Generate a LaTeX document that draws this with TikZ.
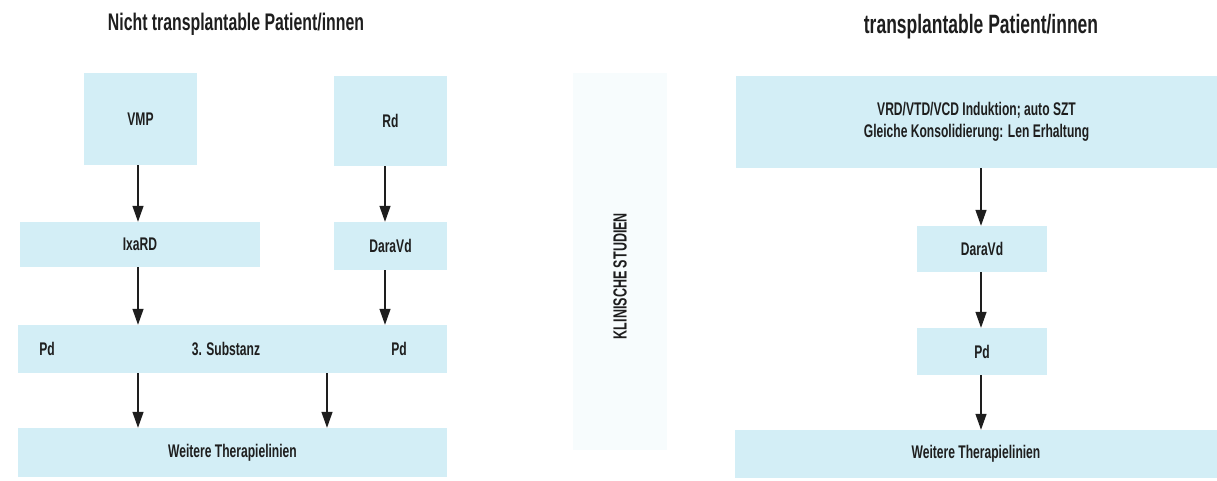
\documentclass[tikz,border=0pt]{standalone}
\usepackage{fontspec}
\setmainfont{Liberation Sans}[BoldFont={* Bold},FakeStretch=0.66]
\usetikzlibrary{arrows.meta}
\definecolor{boxc}{RGB}{211,238,246}
\definecolor{panelc}{RGB}{247,252,253}
\definecolor{txt}{RGB}{30,30,30}
\tikzset{
  box/.style={fill=boxc, draw=none, inner sep=0pt, text=txt, font=\bfseries\fontsize{18.3}{22}\selectfont, align=center},
  lbl/.style={inner sep=0pt, text=txt, font=\bfseries\fontsize{18.3}{22}\selectfont},
  ttl/.style={inner sep=0pt, text=txt, font=\bfseries\fontsize{24}{28}\selectfont},
  arr/.style={draw=txt, line width=1.3pt, -{Triangle[length=16pt,width=11pt]}}
}
\begin{document}
\begin{tikzpicture}[x=1pt,y=-1pt]
\useasboundingbox (0,0) rectangle (1217,480);
% titles
\node[ttl] (t1) at (236,24) {Nicht transplantable Patient/innen};
\node[ttl, font=\bfseries\fontsize{26.5}{30}\selectfont] (t2) at (981,27) {transplantable Patient/innen};
% clinical studies panel
\node[fill=panelc, inner sep=0pt, minimum width=94pt, minimum height=377pt] (panel) at (620,261.5) {};
\node[lbl, rotate=90, font=\bfseries\fontsize{19}{22}\selectfont] (ks) at (620,276) {KLINISCHE STUDIEN};
% left column
\node[box, minimum width=113pt, minimum height=92pt] (vmp) at (140.5,119) {VMP};
\node[box, minimum width=113pt, minimum height=90pt] (rd) at (390.5,121) {Rd};
\node[box, minimum width=240pt, minimum height=45pt] (ixa) at (140,244.5) {IxaRD};
\node[box, minimum width=113pt, minimum height=48pt] (darl) at (390.5,246) {DaraVd};
\node[box, minimum width=429pt, minimum height=48pt] (bar) at (232.5,349) {};
\node[lbl] (pd1) at (47,349) {Pd};
\node[lbl] (sub) at (226,349) {3. Substanz};
\node[lbl] (pd2) at (399,349) {Pd};
\node[box, minimum width=429pt, minimum height=49pt] (wl) at (232.5,452.5) {Weitere Therapielinien};
% right column
\node[box, minimum width=481pt, minimum height=92pt] (top) at (976.5,122) {VRD/VTD/VCD Induktion; auto SZT\\Gleiche Konsolidierung: Len Erhaltung};
\node[box, minimum width=130pt, minimum height=46pt] (darr) at (982,249) {DaraVd};
\node[box, minimum width=130pt, minimum height=47pt] (pdr) at (982,351.5) {Pd};
\node[box, minimum width=482pt, minimum height=48pt] (wr) at (976,454) {Weitere Therapielinien};
% arrows left
\draw[arr] ([xshift=-2.5pt]vmp.south) -- ([xshift=-2pt]ixa.north);
\draw[arr] ([xshift=-5.5pt]rd.south) -- ([xshift=-5.5pt]darl.north);
\draw[arr] ([xshift=-2pt]ixa.south) -- ([xshift=-2pt]ixa.south |- bar.north);
\draw[arr] ([xshift=-5.5pt]darl.south) -- ([xshift=-5.5pt]darl.south |- bar.north);
\draw[arr] ([xshift=-2pt]ixa.south |- bar.south) -- ([xshift=-2pt]ixa.south |- wl.north);
\draw[arr] ([xshift=94.5pt]bar.south) -- ([xshift=94.5pt]bar.south |- wl.north);
% arrows right
\draw[arr] ([xshift=4.5pt]top.south) -- ([xshift=-1pt]darr.north);
\draw[arr] ([xshift=-1pt]darr.south) -- ([xshift=-1pt]pdr.north);
\draw[arr] ([xshift=-1pt]pdr.south) -- ([xshift=-1pt]pdr.south |- wr.north);
\end{tikzpicture}
\end{document}
